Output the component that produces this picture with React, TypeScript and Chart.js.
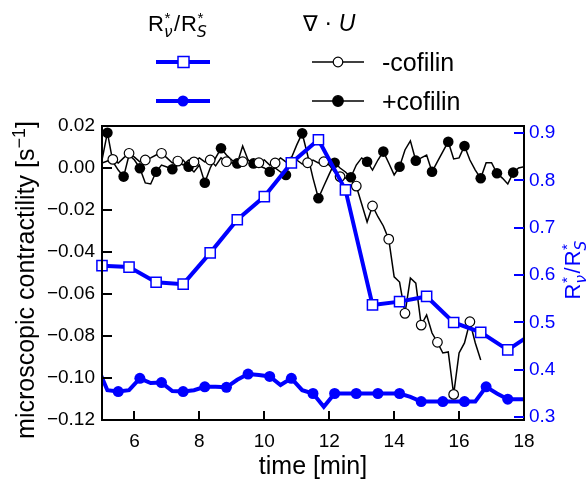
import React, { useEffect, useRef } from 'react';
import { Chart, registerables } from 'chart.js';

Chart.register(...registerables);

const FONT = '"Liberation Sans", Arial, Helvetica, sans-serif';
const BLUE = '#0000ff';

// ---- axis ticks ----
const TICKS_X = [6, 8, 10, 12, 14, 16, 18];
const TICKS_LEFT = [-0.12, -0.1, -0.08, -0.06, -0.04, -0.02, 0, 0.02];
const TICKS_RIGHT = [0.3, 0.4, 0.5, 0.6, 0.7, 0.8, 0.9];

// ---- R*_nu / R*_S, -cofilin (open squares, every 50 s) ----
const RATIO_MINUS_T = [5.0, 5.833, 6.667, 7.5, 8.333, 9.167, 10.0, 10.833, 11.667, 12.5, 13.333, 14.167, 15.0, 15.833, 16.667, 17.5, 18.333];
const RATIO_MINUS = [0.620, 0.617, 0.585, 0.581, 0.647, 0.717, 0.766, 0.837, 0.886, 0.780, 0.537, 0.544, 0.555, 0.500, 0.479, 0.442, 0.480];

// ---- R*_nu / R*_S, +cofilin (filled circles, samples every 20 s from 4.833 min) ----
const RATIO_PLUS_T0 = 4.833;
const RATIO_PLUS_DT = 1 / 3;
const RATIO_PLUS = [
  0.410, 0.357, 0.354, 0.357, 0.382, 0.372, 0.373, 0.355, 0.354, 0.357,
  0.364, 0.364, 0.363, 0.379, 0.391, 0.389, 0.386, 0.368, 0.382, 0.357,
  0.350, 0.322, 0.350, 0.350, 0.350, 0.350, 0.350, 0.350, 0.350, 0.343,
  0.333, 0.333, 0.333, 0.333, 0.333, 0.333, 0.364, 0.350, 0.338, 0.338,
  0.338,
];

// ---- div U (s^-1), samples every 10 s from 5 min ----
const DIV_T0 = 5.0;
const DIV_DT = 1 / 6;
const DIV_MINUS = [
  0.0024, 0.0033, 0.0041, 0.0024, 0.0048, 0.0070, 0.0052, 0.0029, 0.0038, 0.0048,
  0.0062, 0.0070, 0.0048, 0.0024, 0.0033, 0.0014, 0.0038, 0.0029, 0.0048, 0.0029,
  0.0038, 0.0010, 0.0048, 0.0030, 0.0024, 0.0038, 0.0030, 0.0038, 0.0019, 0.0025,
  0.0038, 0.0014, 0.0024, 0.0048, 0.0029, 0.0029, 0.0038, 0.0019, 0.0025, 0.0038,
  0.0024, 0.0030, 0.0014, -0.0019, -0.0041, -0.0048, -0.0057, -0.0086, -0.0171, -0.0257,
  -0.0181, -0.0232, -0.0276, -0.0339, -0.0518, -0.0543, -0.0692, -0.0524, -0.0548, -0.0748,
  -0.0700, -0.0786, -0.0830, -0.0881, -0.0876, -0.1078, -0.0881, -0.0833, -0.0732, -0.0833,
  -0.0914,
];
const DIV_PLUS = [
  0.0038, 0.0168, 0.0030, -0.0010, -0.0041, 0.0062, 0.0038, -0.0001, -0.0071, -0.0076,
  -0.0018, 0.0014, 0.0005, -0.0006, 0.0014, 0.0038, 0.0006, -0.0019, 0.0014, -0.0070,
  0.0000, 0.0048, 0.0094, 0.0062, 0.0038, 0.0022, 0.0105, 0.0038, 0.0022, 0.0010,
  0.0000, -0.0018, 0.0000, -0.0019, -0.0033, 0.0048, 0.0110, 0.0165, 0.0062, -0.0048,
  -0.0144, -0.0086, -0.0029, 0.0025, 0.0000, -0.0019, -0.0044, 0.0014, 0.0048, 0.0030,
  -0.0010, 0.0038, 0.0078, 0.0024, -0.0033, 0.0006, 0.0086, 0.0129, 0.0035, 0.0048,
  0.0062, -0.0018, 0.0030, 0.0078, 0.0125, 0.0043, 0.0048, 0.0105, 0.0038, -0.0010,
  -0.0049, 0.0025, 0.0025, -0.0025, -0.0048, -0.0076, -0.0022, 0.0000, 0.0006,
];

const LEGEND_LABELS = ['-cofilin', '+cofilin'];

function fmtLeft(v: number) {
  const a = Math.abs(v).toFixed(2);
  return (v < -1e-9 ? '\u2212' : '') + a;
}

function drawRatio(ctx: CanvasRenderingContext2D, size: number, color: string, measureOnly = false) {
  const small = size * 0.7;
  const main = `${size}px ${FONT}`;
  const sm = `${small}px ${FONT}`;
  const smIt = `italic ${small}px "DejaVu Sans", ${FONT}`;
  let x = 0;
  ctx.fillStyle = color;
  const piece = (txt: string, font: string, dx: number, dy: number) => {
    ctx.font = font;
    if (!measureOnly) ctx.fillText(txt, x + dx, dy);
    return ctx.measureText(txt).width;
  };
  x += piece('R', main, 0, 0);
  const w1 = piece('*', sm, 0.5, -size * 0.36);
  const w2 = piece('\u03bd', smIt, 0, size * 0.25);
  x += Math.max(w1, w2) + 1.5;
  x += piece('/', main, 0, 0) + 1;
  x += piece('R', main, 0, 0);
  const w3 = piece('*', sm, 0.5, -size * 0.36);
  const w4 = piece('S', smIt, 0, size * 0.25);
  x += Math.max(w3, w4);
  return x;
}

const customPlugin = {
  id: 'custom',
  afterDraw(chart: any) {
    const ctx: CanvasRenderingContext2D = chart.ctx;
    const { left, right, top, bottom } = chart.chartArea;
    const xs = chart.scales.x;
    const yl = chart.scales.y;
    const yr = chart.scales.y2;
    ctx.save();
    ctx.textBaseline = 'alphabetic';
    ctx.textAlign = 'left';

    // frame
    ctx.strokeStyle = '#000';
    ctx.lineWidth = 2;
    ctx.strokeRect(left, top, right - left, bottom - top);

    // inward ticks
    ctx.lineWidth = 2;
    ctx.beginPath();
    TICKS_X.forEach((t) => {
      const px = Math.round(xs.getPixelForValue(t));
      ctx.moveTo(px, bottom);
      ctx.lineTo(px, bottom - 9);
    });
    TICKS_LEFT.forEach((v) => {
      const py = Math.round(yl.getPixelForValue(v));
      ctx.moveTo(left, py);
      ctx.lineTo(left + 10, py);
    });
    ctx.stroke();
    ctx.strokeStyle = BLUE;
    ctx.beginPath();
    TICKS_RIGHT.forEach((v) => {
      const py = Math.round(yr.getPixelForValue(v));
      ctx.moveTo(right, py);
      ctx.lineTo(right - 10, py);
    });
    ctx.stroke();

    // x title
    ctx.fillStyle = '#000';
    ctx.font = `25px ${FONT}`;
    ctx.textAlign = 'center';
    ctx.fillText('time [min]', (left + right) / 2, 474);
    ctx.textAlign = 'left';

    // left title (rotated)
    {
      const size = 25;
      const main = `${size}px ${FONT}`;
      const sm = `${Math.round(size * 0.7)}px ${FONT}`;
      ctx.font = main;
      const a = 'microscopic contractility [s';
      const b = '\u22121';
      const c = ']';
      const wa = ctx.measureText(a).width;
      const wc = ctx.measureText(c).width;
      ctx.font = sm;
      const wb = ctx.measureText(b).width;
      const total = wa + wb + wc;
      ctx.save();
      ctx.translate(34, 280);
      ctx.rotate(-Math.PI / 2);
      ctx.fillStyle = '#000';
      ctx.font = main;
      ctx.fillText(a, -total / 2, 0);
      ctx.font = sm;
      ctx.fillText(b, -total / 2 + wa, -size * 0.38);
      ctx.font = main;
      ctx.fillText(c, -total / 2 + wa + wb, 0);
      ctx.restore();
    }

    // right title (rotated)
    {
      const size = 22;
      const w = drawRatio(ctx, size, BLUE, true);
      ctx.save();
      ctx.translate(580, 270 + w / 2);
      ctx.rotate(-Math.PI / 2);
      drawRatio(ctx, size, BLUE);
      ctx.restore();
    }

    // legend headers
    ctx.save();
    ctx.translate(148, 31);
    drawRatio(ctx, 22, '#000');
    ctx.restore();
    ctx.fillStyle = '#000';
    ctx.font = `22px "DejaVu Sans", ${FONT}`;
    const nab = '\u2207 \u00b7 ';
    ctx.fillText(nab, 303, 31);
    const wn = ctx.measureText(nab).width;
    ctx.font = `italic 23px ${FONT}`;
    ctx.fillText('U', 303 + wn, 31);

    // legend rows
    const rows = [62, 101];
    rows.forEach((ry, k) => {
      // blue
      ctx.strokeStyle = BLUE;
      ctx.lineWidth = 4;
      ctx.beginPath();
      ctx.moveTo(156, ry);
      ctx.lineTo(210, ry);
      ctx.stroke();
      if (k === 0) {
        ctx.fillStyle = '#fff';
        ctx.fillRect(178, ry - 5.5, 11, 11);
        ctx.lineWidth = 1.5;
        ctx.strokeRect(178, ry - 5.5, 11, 11);
      } else {
        ctx.fillStyle = BLUE;
        ctx.beginPath();
        ctx.arc(183, ry, 5.5, 0, Math.PI * 2);
        ctx.fill();
      }
      // black
      ctx.strokeStyle = '#000';
      ctx.lineWidth = 1.5;
      ctx.beginPath();
      ctx.moveTo(312, ry);
      ctx.lineTo(364, ry);
      ctx.stroke();
      ctx.beginPath();
      ctx.arc(338, ry, k === 0 ? 4.8 : 5.3, 0, Math.PI * 2);
      ctx.fillStyle = k === 0 ? '#fff' : '#000';
      ctx.fill();
      ctx.lineWidth = 1.2;
      ctx.stroke();
      ctx.fillStyle = '#000';
      ctx.font = `25px ${FONT}`;
      ctx.fillText(LEGEND_LABELS[k], 382, ry + 9);
    });
    ctx.restore();
  },
};

export default function App() {
  const ref = useRef<HTMLCanvasElement | null>(null);

  useEffect(() => {
    if (!ref.current) return;
    const divT = (n: number) => Array.from({ length: n }, (_, i) => DIV_T0 + i * DIV_DT);
    const tMinus = divT(DIV_MINUS.length);
    const tPlus = divT(DIV_PLUS.length);
    const tRatioPlus = RATIO_PLUS.map((_, i) => RATIO_PLUS_T0 + i * RATIO_PLUS_DT);

    const chart = new Chart(ref.current, {
      type: 'line',
      data: {
        datasets: [
          {
            label: 'R ratio -cofilin',
            data: RATIO_MINUS_T.map((t, i) => ({ x: t, y: RATIO_MINUS[i] })),
            yAxisID: 'y2',
            borderColor: BLUE,
            borderWidth: 4,
            pointStyle: 'rect',
            pointRadius: 7.2,
            pointBackgroundColor: '#ffffff',
            pointBorderColor: BLUE,
            pointBorderWidth: 1.5,
            tension: 0,
            order: 0,
            clip: { left: 10, top: 0, right: 0, bottom: 0 },
          } as any,
          {
            label: 'div -cofilin',
            data: tMinus.map((t, i) => ({ x: t, y: DIV_MINUS[i] })),
            yAxisID: 'y',
            borderColor: '#000',
            borderWidth: 1.5,
            pointRadius: (c: any) => (c.dataIndex % 3 === 2 ? 4.8 : 0),
            pointBackgroundColor: '#ffffff',
            pointBorderColor: '#000',
            pointBorderWidth: 1.2,
            tension: 0,
            order: 1,
            clip: 0,
          } as any,
          {
            label: 'div +cofilin',
            data: tPlus.map((t, i) => ({ x: t, y: DIV_PLUS[i] })),
            yAxisID: 'y',
            borderColor: '#000',
            borderWidth: 1.5,
            pointRadius: (c: any) => (c.dataIndex % 3 === 1 ? 5.3 : 0),
            pointBackgroundColor: '#000',
            pointBorderColor: '#000',
            pointBorderWidth: 0,
            tension: 0,
            order: 2,
            clip: { left: 10, top: 10, right: 0, bottom: 0 },
          } as any,
          {
            label: 'R ratio +cofilin',
            data: tRatioPlus.map((t, i) => ({ x: t, y: RATIO_PLUS[i] })),
            yAxisID: 'y2',
            borderColor: BLUE,
            borderWidth: 4,
            pointRadius: (c: any) => (c.dataIndex % 2 === 0 ? 5.5 : 0),
            pointBackgroundColor: BLUE,
            pointBorderColor: BLUE,
            pointBorderWidth: 0,
            tension: 0,
            order: 3,
            clip: 0,
          } as any,
        ],
      },
      options: {
        responsive: false,
        animation: false,
        events: [],
        layout: { padding: { top: 126, left: 0, right: 0, bottom: 0 } },
        plugins: { legend: { display: false }, tooltip: { enabled: false } },
        scales: {
          x: {
            type: 'linear',
            position: 'bottom',
            min: 5,
            max: 18,
            afterFit: (s: any) => { s.height = 61; },
            afterBuildTicks: (s: any) => { s.ticks = TICKS_X.map((v) => ({ value: v })); },
            grid: { display: false, drawTicks: false },
            border: { display: false },
            ticks: {
              autoSkip: false,
              maxRotation: 0,
              padding: 10,
              color: '#000',
              font: { family: FONT, size: 19 },
              callback: (v: any) => String(v),
            },
          },
          y: {
            type: 'linear',
            position: 'left',
            min: -0.12,
            max: 0.02,
            afterFit: (s: any) => { s.width = 102; },
            afterBuildTicks: (s: any) => { s.ticks = TICKS_LEFT.map((v) => ({ value: v })); },
            grid: { display: false, drawTicks: false },
            border: { display: false },
            ticks: {
              padding: 7,
              color: '#000',
              font: { family: FONT, size: 19 },
              callback: (v: any) => fmtLeft(Number(v)),
            },
          },
          y2: {
            type: 'linear',
            position: 'right',
            min: 0.294,
            max: 0.915,
            afterFit: (s: any) => { s.width = 62; },
            afterBuildTicks: (s: any) => { s.ticks = TICKS_RIGHT.map((v) => ({ value: v })); },
            grid: { display: false, drawTicks: false },
            border: { display: false },
            ticks: {
              padding: 5,
              color: BLUE,
              font: { family: FONT, size: 19 },
              callback: (v: any) => Number(v).toFixed(1),
            },
          },
        },
      } as any,
      plugins: [customPlugin],
    });
    return () => chart.destroy();
  }, []);

  return (
    <div style={{ position: 'fixed', left: 0, top: 0, width: 586, height: 481, background: '#fff' }}>
      <canvas ref={ref} width={586} height={481} style={{ display: 'block', width: 586, height: 481 }} />
    </div>
  );
}
